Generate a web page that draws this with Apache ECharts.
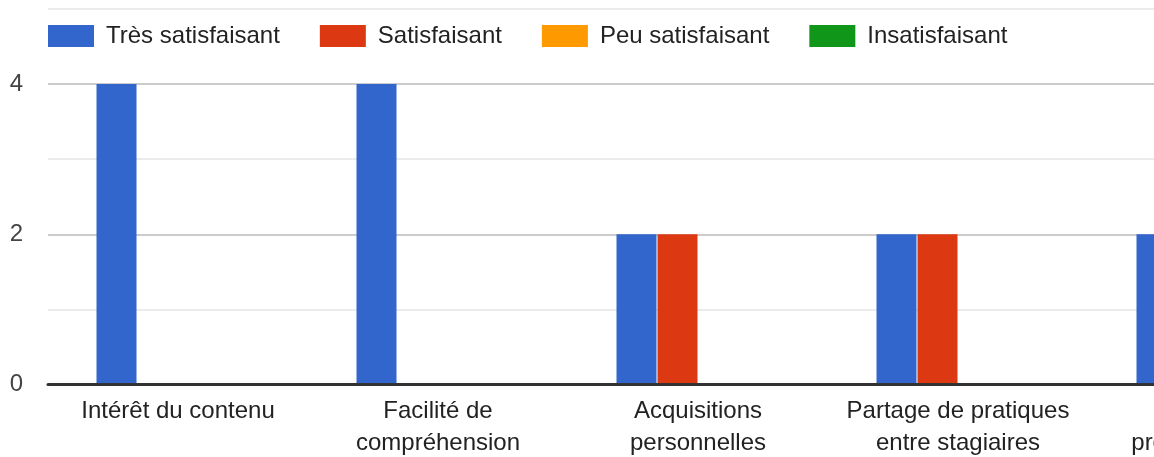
<!DOCTYPE html>
<html>
<head>
<meta charset="utf-8">
<script src="https://cdn.jsdelivr.net/npm/echarts@6/dist/echarts.min.js"></script>
<style>
  html, body { margin: 0; padding: 0; overflow: hidden; background: #fff; }
  #chart { width: 1400px; height: 457px; }
</style>
</head>
<body>
<div id="chart"></div>
<script>
// categories (the last one is cut off at the right edge of the picture)
const categories = [
  "Intérêt du contenu",
  "Facilité de\ncompréhension",
  "Acquisitions\npersonnelles",
  "Partage de pratiques\nentre stagiaires",
  "Évolutions\nprofessionnelles"
];
const seriesNames = ["Très satisfaisant", "Satisfaisant", "Peu satisfaisant", "Insatisfaisant"];
const tresSatisfaisant = [4, 4, 2, 2, 2];
const satisfaisant = [0, 0, 2, 2, 2];
const peuSatisfaisant = [0, 0, 0, 0, 0];
const insatisfaisant = [0, 0, 0, 0, 0];
const colors = ["#3366cc", "#dc3912", "#ff9900", "#109618"];

const font = 'Arial, "Liberation Sans", sans-serif';
const chart = echarts.init(document.getElementById("chart"));

const values = [tresSatisfaisant, satisfaisant, peuSatisfaisant, insatisfaisant];

chart.setOption({
  animation: false,
  color: colors,
  legend: {
    left: 48,
    top: 24,
    padding: 0,
    icon: "rect",
    itemWidth: 46,
    itemHeight: 22,
    itemGap: 40,
    textStyle: { fontFamily: font, fontSize: 24, color: "#222", padding: [0, 0, 0, 7] },
    data: seriesNames
  },
  // labels spill below the bottom edge in the original, so don't let the grid shrink
  grid: { left: 48, right: 52, top: 9, bottom: 72.5, outerBoundsMode: "none" },
  xAxis: {
    type: "category",
    data: categories,
    z: 10,
    axisLine: { lineStyle: { color: "#333", width: 3 } },
    axisTick: { show: false },
    axisLabel: {
      interval: 0,
      margin: 11,
      fontFamily: font,
      fontSize: 24,
      lineHeight: 32,
      color: "#222"
    }
  },
  yAxis: {
    type: "value",
    min: 0,
    max: 5,
    interval: 1,
    axisLine: { show: false },
    axisTick: { show: false },
    axisLabel: {
      margin: 25,
      fontFamily: font,
      fontSize: 24,
      color: "#444",
      formatter: (v) => (v % 2 === 0 ? String(v) : "")
    },
    splitLine: { lineStyle: { color: ["#cccccc", "#ebebeb"], width: 2 } }
  },
  series: seriesNames.map((name, i) => ({
    name: name,
    type: "bar",
    barWidth: 40,
    barGap: "2.5%",
    data: values[i]
  }))
});
</script>
</body>
</html>
